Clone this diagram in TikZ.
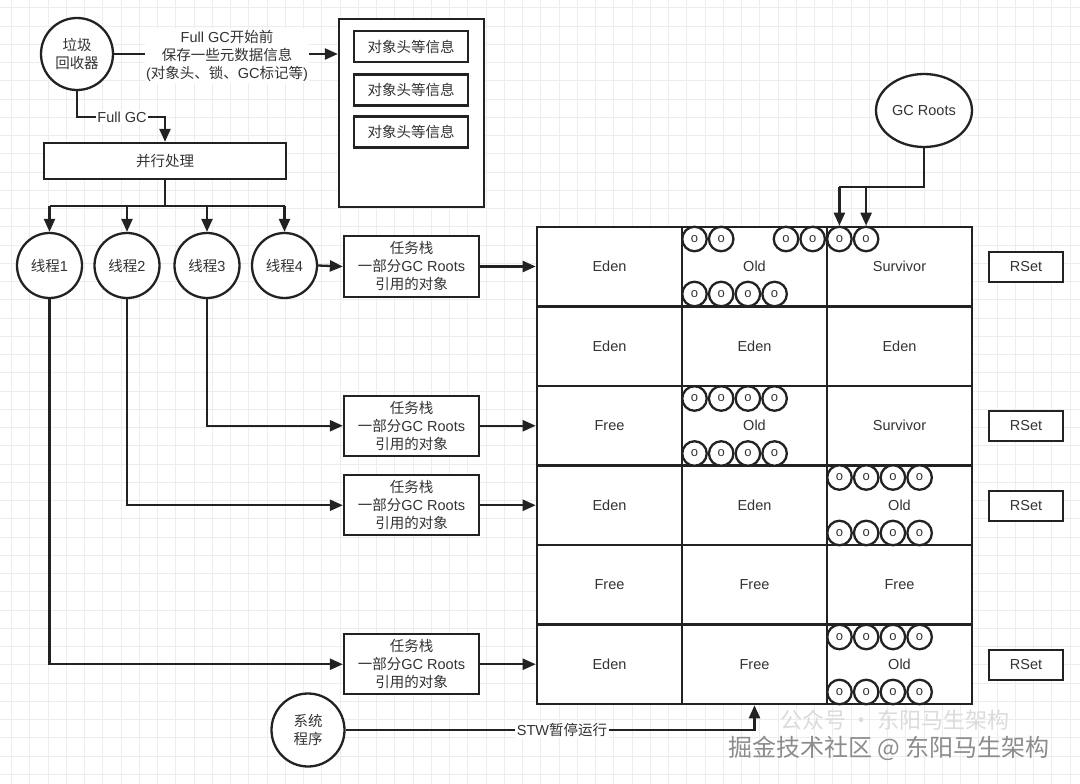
\documentclass[tikz,border=0pt]{standalone}
\usepackage{fontspec}
\setmainfont{Liberation Sans}
\newfontfamily\cjk{Noto Sans CJK SC}
\usetikzlibrary{arrows.meta,shapes.geometric}
\newcommand\zh[1]{{\cjk #1}}
\definecolor{ink}{HTML}{222222}
\definecolor{txt}{HTML}{333333}
\begin{document}
\begin{tikzpicture}[x=1pt,y=-1pt,
  ln/.style={line width=2.3pt,draw=ink},
  arr/.style={ln,-{Triangle[length=13pt,width=11pt]}},
  base/.style={font=\fontsize{14.5}{18}\selectfont,text=txt,align=center,inner sep=0pt},
  rbox/.style={base,draw=ink,line width=2.3pt,fill=white,rectangle},
  rnd/.style={base,draw=ink,line width=2.3pt,fill=white,circle},
  cellbox/.style={base,draw=ink,line width=2.6pt,fill=white,minimum width=145pt,minimum height=79.5pt},
  obj/.style={circle,draw=ink,line width=2.3pt,fill=white,minimum size=24.5pt,inner sep=0pt,font=\fontsize{13}{13}\selectfont,text=txt},
  lbl/.style={base,fill=white,inner sep=1.5pt}]
\useasboundingbox (0,0) rectangle (1080,784);
\fill[white] (0,0) rectangle (1080,784);
\foreach \i in {0,...,58} \draw[black!7,line width=0.9pt] (11.5+\i*18.25,0) -- ++(0,784);
\foreach \j in {0,...,42} \draw[black!7,line width=0.9pt] (0,7.75+\j*18.25) -- ++(1080,0);

% top left
\node[rnd,minimum size=72pt] (gc) at (77,54) {\zh{垃圾}\\\zh{回收器}};
\node[rbox,minimum width=145pt,minimum height=188pt] (big) at (411.5,113) {};
\node[rbox,minimum width=114pt,minimum height=31pt] (h1) at (411,46.5) {\zh{对象头等信息}};
\node[rbox,minimum width=114pt,minimum height=31pt] (h2) at (411,90) {\zh{对象头等信息}};
\node[rbox,minimum width=114pt,minimum height=31pt] (h3) at (411,132) {\zh{对象头等信息}};
\draw[arr] (gc.east) -- (gc.east -| big.west);
\node[lbl] (meta) at (227,56) {Full GC\zh{开始前}\\\zh{保存一些元数据信息}\\(\zh{对象头、锁、}GC\zh{标记等})};

\node[rbox,minimum width=242pt,minimum height=36pt] (par) at (165,161) {\zh{并行处理}};
\coordinate (fk) at (165,117);
\draw[arr] (gc.south) |- (fk) -- (par.north);
\node[lbl] (fgc) at (122,117) {Full GC};

% threads
\node[rnd,minimum size=65pt] (th1) at (49.5,265.5) {\zh{线程}1};
\node[rnd,minimum size=65pt] (th2) at (127,265.5) {\zh{线程}2};
\node[rnd,minimum size=65pt] (th3) at (207,265.5) {\zh{线程}3};
\node[rnd,minimum size=65pt] (th4) at (284.5,265.5) {\zh{线程}4};
\coordinate (bus) at (165,206);
\draw[ln] (par.south) -- (bus);
\draw[ln] (th1.north |- bus) -- (th4.north |- bus);
\foreach \t in {th1,th2,th3,th4} \draw[arr] (\t.north |- bus) -- (\t.north);

% task stacks
\node[rbox,minimum width=135pt,minimum height=61pt] (ts1) at (411.5,266.5) {\zh{任务栈}\\\zh{一部分}GC Roots\\\zh{引用的对象}};
\node[rbox,minimum width=135pt,minimum height=60pt] (ts2) at (411.5,425.75) {\zh{任务栈}\\\zh{一部分}GC Roots\\\zh{引用的对象}};
\node[rbox,minimum width=135pt,minimum height=60pt] (ts3) at (411.5,505.25) {\zh{任务栈}\\\zh{一部分}GC Roots\\\zh{引用的对象}};
\node[rbox,minimum width=135pt,minimum height=60pt] (ts4) at (411.5,664.25) {\zh{任务栈}\\\zh{一部分}GC Roots\\\zh{引用的对象}};
\draw[arr] (th4.east) -- (ts1.west);
\draw[arr] (th3.south) |- (ts2.west);
\draw[arr] (th2.south) |- (ts3.west);
\draw[arr] (th1.south) |- (ts4.west);

% heap cells
\node[cellbox] (c11) at (609.5,266.75) {Eden};
\node[cellbox] (c12) at (754.5,266.75) {Old};
\node[cellbox] (c13) at (899.5,266.75) {Survivor};
\node[cellbox] (c21) at (609.5,346.25) {Eden};
\node[cellbox] (c22) at (754.5,346.25) {Eden};
\node[cellbox] (c23) at (899.5,346.25) {Eden};
\node[cellbox] (c31) at (609.5,425.75) {Free};
\node[cellbox] (c32) at (754.5,425.75) {Old};
\node[cellbox] (c33) at (899.5,425.75) {Survivor};
\node[cellbox] (c41) at (609.5,505.25) {Eden};
\node[cellbox] (c42) at (754.5,505.25) {Eden};
\node[cellbox] (c43) at (899.5,505.25) {Old};
\node[cellbox] (c51) at (609.5,584.75) {Free};
\node[cellbox] (c52) at (754.5,584.75) {Free};
\node[cellbox] (c53) at (899.5,584.75) {Free};
\node[cellbox] (c61) at (609.5,664.25) {Eden};
\node[cellbox] (c62) at (754.5,664.25) {Free};
\node[cellbox] (c63) at (899.5,664.25) {Old};

\draw[arr] (ts1.east) -- (ts1.east -| c11.west);
\draw[arr] (ts2.east) -- (ts2.east -| c31.west);
\draw[arr] (ts3.east) -- (ts3.east -| c41.west);
\draw[arr] (ts4.east) -- (ts4.east -| c61.west);

% objects
\foreach \x [count=\k] in {694.5,721.2,786,812.7,839.4,866.1} \node[obj] (oa\k) at (\x,239) {o};
\foreach \y [count=\r] in {294,398.5,453.5} {
  \foreach \k in {0,...,3} \node[obj] (ob\r\k) at (694.5+\k*26.7,\y) {o};
}
\foreach \y [count=\r] in {477.5,533,637,692} {
  \foreach \k in {0,...,3} \node[obj] (oc\r\k) at (839.5+\k*26.7,\y) {o};
}

% GC Roots
\node[base,draw=ink,line width=2.3pt,fill=white,ellipse,minimum width=96pt,minimum height=73pt] (gcr) at (924,110.5) {GC Roots};
\coordinate (g1) at (839.4,187);
\coordinate (g2) at (866.1,187);
\draw[ln] (gcr.south) |- (g1);
\draw[arr] (g1) -- (g1 |- c13.north);
\draw[arr] (g2) -- (g2 |- c13.north);

% RSet
\node[rbox,minimum width=74pt,minimum height=30pt] (rs1) at (1026,267) {RSet};
\node[rbox,minimum width=74pt,minimum height=30pt] (rs2) at (1026,426) {RSet};
\node[rbox,minimum width=74pt,minimum height=30pt] (rs3) at (1026,506) {RSet};
\node[rbox,minimum width=74pt,minimum height=30pt] (rs4) at (1026,665) {RSet};

% system program
\node[rnd,minimum size=73pt] (sys) at (308,730) {\zh{系统}\\\zh{程序}};
\coordinate (stw) at (754.5,730);
\draw[arr] (sys.east) -- (stw) -- (stw |- c62.south);
\node[lbl] (stwl) at (562,730) {STW\zh{暂停运行}};

% watermark
\node[inner sep=0pt,font=\cjk\fontsize{22}{22}\selectfont,text=black!14] (wm1) at (895,720) {公众号 · 东阳马生架构};
\node[inner sep=0pt,font=\cjk\fontsize{24}{24}\selectfont,text=black!45] (wm2) at (889,748) {掘金技术社区 @ 东阳马生架构};
\end{tikzpicture}
\end{document}
